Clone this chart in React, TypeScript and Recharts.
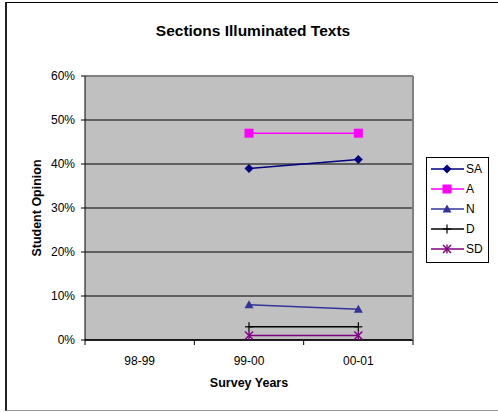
import { CartesianGrid, Legend, Line, LineChart, ReferenceLine, XAxis, YAxis } from "recharts";

const years = ["98-99", "99-00", "00-01"];
const saValues = [null, 0.39, 0.41];
const aValues = [null, 0.47, 0.47];
const nValues = [null, 0.08, 0.07];
const dValues = [null, 0.03, 0.03];
const sdValues = [null, 0.01, 0.01];
const yTicks = [0, 0.1, 0.2, 0.3, 0.4, 0.5, 0.6];

const data = years.map((year, i) => ({
  year,
  SA: saValues[i],
  A: aValues[i],
  N: nValues[i],
  D: dValues[i],
  SD: sdValues[i],
}));

const FONT = "'Liberation Sans', Arial, sans-serif";

type Kind = "diamond" | "square" | "triangle" | "plus" | "star";

const series: { key: string; color: string; marker: Kind }[] = [
  { key: "SA", color: "#000080", marker: "diamond" },
  { key: "A", color: "#FF00FF", marker: "square" },
  { key: "N", color: "#333399", marker: "triangle" },
  { key: "D", color: "#000000", marker: "plus" },
  { key: "SD", color: "#800080", marker: "star" },
];

function Marker({ kind, cx, cy, color }: { kind: Kind; cx: number; cy: number; color: string }) {
  switch (kind) {
    case "diamond":
      return <path d={`M${cx},${cy - 4.5}L${cx + 4.5},${cy}L${cx},${cy + 4.5}L${cx - 4.5},${cy}Z`} fill={color} />;
    case "square":
      return <rect x={cx - 4.5} y={cy - 4.5} width={9} height={9} fill={color} />;
    case "triangle":
      return <path d={`M${cx},${cy - 4.5}L${cx + 4.5},${cy + 3.5}L${cx - 4.5},${cy + 3.5}Z`} fill={color} />;
    case "plus":
      return (
        <g stroke={color} strokeWidth={1.2}>
          <line x1={cx - 4} y1={cy} x2={cx + 4} y2={cy} />
          <line x1={cx} y1={cy - 4.5} x2={cx} y2={cy + 4.5} />
        </g>
      );
    case "star":
      return (
        <g stroke={color} strokeWidth={1.4}>
          <line x1={cx - 4} y1={cy - 4} x2={cx + 4} y2={cy + 4} />
          <line x1={cx - 4} y1={cy + 4} x2={cx + 4} y2={cy - 4} />
          <line x1={cx} y1={cy - 4.5} x2={cx} y2={cy + 4.5} />
        </g>
      );
  }
}

function makeDot(kind: Kind, color: string) {
  return (props: any) => {
    const { cx, cy, key, value } = props;
    if (value == null || cx == null || cy == null) return <g key={key} />;
    return (
      <g key={key}>
        <Marker kind={kind} cx={cx} cy={cy} color={color} />
      </g>
    );
  };
}

function YearTick(props: any) {
  const { x, y, payload, index, visibleTicksCount } = props;
  const half = payload.offset ?? 0;
  const last = index === visibleTicksCount - 1;
  return (
    <g>
      <line x1={x - half} y1={y - 8} x2={x - half} y2={y - 3} stroke="#000" />
      {last && <line x1={x + half} y1={y - 8} x2={x + half} y2={y - 3} stroke="#000" />}
      <text x={x} y={y + 17} textAnchor="middle" fontSize={12} fontFamily={FONT} fill="#000">
        {payload.value}
      </text>
    </g>
  );
}

function LegendBox() {
  return (
    <div style={{ border: "1px solid #000", background: "#fff", width: 61, padding: "1px 0 3px", fontFamily: FONT, fontSize: 12 }}>
      {series.map((s) => (
        <div key={s.key} style={{ display: "flex", alignItems: "center", height: 20 }}>
          <svg width={36} height={20} style={{ display: "block", marginLeft: 3 }}>
            <line x1={1} y1={10} x2={34} y2={10} stroke={s.color} strokeWidth={1.5} />
            <Marker kind={s.marker} cx={17} cy={10} color={s.color} />
          </svg>
          <span style={{ lineHeight: "20px" }}>{s.key}</span>
        </div>
      ))}
    </div>
  );
}

export default function App() {
  return (
    <div style={{ position: "absolute", left: 0, top: 0, width: 498, height: 412, background: "#fff" }}>
      <div
        style={{
          position: "absolute",
          left: 5,
          top: 2,
          width: 500,
          height: 407,
          borderLeft: "2px solid #222",
          borderTop: "1px solid #000",
          borderBottom: "1px solid #999",
        }}
      />
      <div
        style={{
          position: "absolute",
          left: 0,
          top: 22,
          width: 506,
          textAlign: "center",
          fontFamily: FONT,
          fontWeight: "bold",
          fontSize: 15.5,
        }}
      >
        Sections Illuminated Texts
      </div>
      <div style={{ position: "absolute", left: 0, top: 0 }}>
        <LineChart width={498} height={412} data={data} margin={{ top: 76, right: 84, bottom: 30, left: 30 }}>
          <CartesianGrid vertical={false} stroke="#000" fill="#C0C0C0" fillOpacity={1} />
          <XAxis
            dataKey="year"
            scale="band"
            height={42}
            axisLine={{ stroke: "#000", strokeWidth: 1.5 }}
            tickLine={false}
            tick={<YearTick />}
            interval={0}
            label={{ value: "Survey Years", position: "insideBottom", offset: -5, fontSize: 12.5, fontWeight: "bold", fontFamily: FONT, fill: "#000" }}
          />
          <YAxis
            domain={[0, 0.6]}
            ticks={yTicks}
            width={55}
            axisLine={{ stroke: "#000" }}
            tickLine={{ stroke: "#000" }}
            tickSize={4}
            tickMargin={6}
            tick={{ fontSize: 12, fontFamily: FONT, fill: "#000" }}
            tickFormatter={(v: number) => `${Math.round(v * 100)}%`}
            label={{ value: "Student Opinion", angle: -90, position: "insideLeft", offset: 0, dx: 7, fontSize: 12.5, fontWeight: "bold", fontFamily: FONT, fill: "#000", style: { textAnchor: "middle" } }}
          />
          <YAxis yAxisId="r" orientation="right" width={1} domain={[0, 0.6]} tick={false} tickLine={false} axisLine={{ stroke: "#808080", strokeWidth: 2 }} />
          <ReferenceLine y={0.6} stroke="#808080" strokeWidth={2} />
          <Legend
            layout="horizontal"
            verticalAlign="middle"
            align="center"
            content={<LegendBox />}
            wrapperStyle={{ left: 426, top: 157, width: 63 }}
          />
          {series.map((s) => (
            <Line
              key={s.key}
              dataKey={s.key}
              stroke={s.color}
              strokeWidth={1.5}
              dot={makeDot(s.marker, s.color)}
              activeDot={false}
              isAnimationActive={false}
              legendType="none"
            />
          ))}
        </LineChart>
      </div>
    </div>
  );
}
